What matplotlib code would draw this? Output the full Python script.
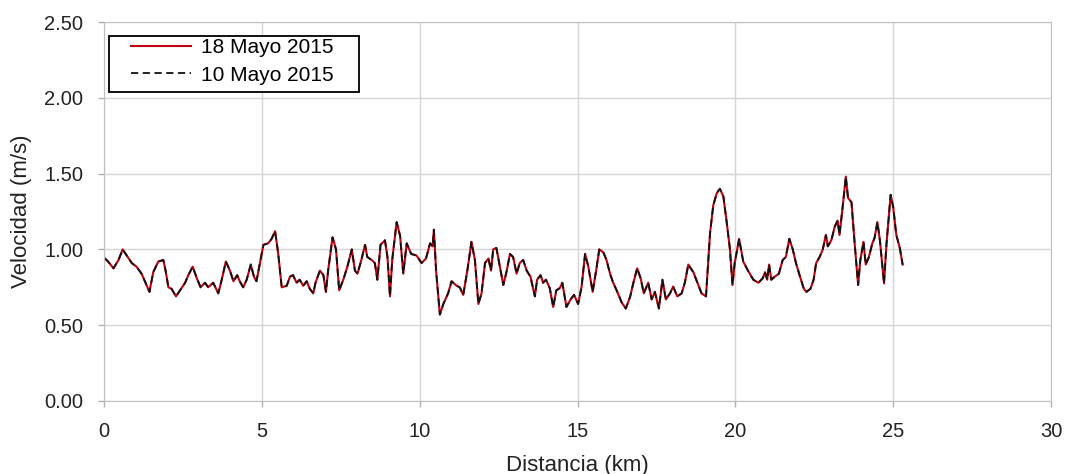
import matplotlib.pyplot as plt
from matplotlib.patches import Rectangle
import numpy as np

plt.rcParams['font.family'] = ['Liberation Sans', 'DejaVu Sans']

distancia = [0.03, 0.13, 0.3, 0.46, 0.59, 0.72, 0.88, 1.03, 1.19, 1.44, 1.56, 1.72, 1.88,
             1.96, 2.04, 2.14, 2.28, 2.41, 2.57, 2.67, 2.81, 2.94, 3.06, 3.2, 3.3, 3.46,
             3.62, 3.73, 3.86, 3.99, 4.1, 4.22, 4.3, 4.41, 4.52, 4.65, 4.75, 4.83, 4.94,
             5.05, 5.2, 5.31, 5.42, 5.52, 5.63, 5.79, 5.89, 5.99, 6.1, 6.2, 6.31, 6.42,
             6.52, 6.63, 6.7, 6.84, 6.95, 7.03, 7.1, 7.24, 7.35, 7.45, 7.58, 7.71, 7.85,
             7.95, 8.03, 8.14, 8.27, 8.34, 8.48, 8.58, 8.66, 8.76, 8.9, 8.98, 9.06, 9.13,
             9.27, 9.38, 9.48, 9.59, 9.73, 9.9, 10.06, 10.2, 10.33, 10.41, 10.45, 10.52,
             10.64, 10.75, 10.9, 11.01, 11.17, 11.27, 11.38, 11.51, 11.64, 11.75, 11.86,
             11.96, 12.07, 12.18, 12.26, 12.33, 12.43, 12.52, 12.65, 12.76, 12.86, 12.96,
             13.07, 13.17, 13.28, 13.39, 13.51, 13.65, 13.72, 13.83, 13.91, 14.0, 14.12,
             14.23, 14.33, 14.44, 14.52, 14.65, 14.78, 14.89, 15.02, 15.13, 15.24, 15.34,
             15.48, 15.59, 15.69, 15.82, 15.92, 16.03, 16.13, 16.24, 16.4, 16.53, 16.67,
             16.77, 16.89, 17.0, 17.1, 17.24, 17.35, 17.45, 17.58, 17.69, 17.8, 17.93,
             18.03, 18.16, 18.3, 18.4, 18.51, 18.67, 18.8, 18.93, 19.07, 19.2, 19.3,
             19.41, 19.51, 19.62, 19.72, 19.83, 19.91, 19.98, 20.12, 20.25, 20.4, 20.57,
             20.73, 20.87, 20.94, 21.01, 21.07, 21.14, 21.25, 21.38, 21.5, 21.6, 21.71,
             21.82, 21.92, 22.05, 22.17, 22.25, 22.38, 22.48, 22.56, 22.67, 22.77, 22.87,
             22.93, 23.04, 23.15, 23.24, 23.3, 23.4, 23.5, 23.57, 23.68, 23.78, 23.89,
             23.96, 24.06, 24.13, 24.23, 24.34, 24.41, 24.5, 24.58, 24.71, 24.79, 24.92,
             25.0, 25.1, 25.21, 25.3]

vel_18_mayo = [0.94, 0.92, 0.875, 0.93, 1.00, 0.96, 0.91, 0.886, 0.84, 0.72, 0.85, 0.92, 0.93,
               0.85, 0.75, 0.74, 0.69, 0.73, 0.78, 0.83, 0.886, 0.81, 0.75, 0.78, 0.75, 0.78,
               0.71, 0.80, 0.92, 0.86, 0.79, 0.83, 0.79, 0.75, 0.80, 0.90, 0.82, 0.79, 0.91,
               1.03, 1.04, 1.07, 1.12, 0.97, 0.75, 0.76, 0.82, 0.83, 0.78, 0.80, 0.76, 0.79,
               0.74, 0.71, 0.78, 0.86, 0.83, 0.72, 0.86, 1.08, 1.00, 0.73, 0.80, 0.886, 1.00,
               0.86, 0.84, 0.92, 1.03, 0.95, 0.93, 0.91, 0.80, 1.03, 1.06, 0.95, 0.69, 0.93,
               1.18, 1.09, 0.84, 1.04, 0.97, 0.96, 0.91, 0.94, 1.04, 1.02, 1.13, 0.86,
               0.57, 0.64, 0.71, 0.79, 0.76, 0.75, 0.70, 0.86, 1.05, 0.93, 0.64,
               0.71, 0.91, 0.94, 0.86, 1.00, 1.01, 0.91, 0.765, 0.86, 0.97, 0.95,
               0.84, 0.91, 0.93, 0.86, 0.82, 0.69, 0.80, 0.83, 0.78, 0.80, 0.745,
               0.62, 0.73, 0.745, 0.78, 0.62, 0.67, 0.70, 0.64, 0.754, 0.97, 0.89,
               0.72, 0.86, 1.00, 0.98, 0.93, 0.84, 0.78, 0.73, 0.65, 0.61, 0.69,
               0.78, 0.875, 0.81, 0.71, 0.78, 0.67, 0.72, 0.61, 0.80, 0.67, 0.71,
               0.755, 0.69, 0.71, 0.78, 0.90, 0.85, 0.78, 0.71, 0.69, 1.11, 1.29,
               1.37, 1.40, 1.35, 1.19, 1.00, 0.765, 0.91, 1.07, 0.92, 0.86, 0.80,
               0.78, 0.81, 0.85, 0.80, 0.90, 0.80, 0.82, 0.84, 0.93, 0.95, 1.07,
               1.00, 0.91, 0.82, 0.74, 0.72, 0.74, 0.80, 0.91, 0.95, 1.00, 1.095,
               1.02, 1.06, 1.15, 1.19, 1.095, 1.28, 1.48, 1.34, 1.31, 1.04, 0.765,
               0.93, 1.05, 0.90, 0.95, 1.04, 1.075, 1.18, 1.06, 0.776, 1.04, 1.36,
               1.28, 1.095, 1.01, 0.90]

# las dos fechas dan practicamente el mismo perfil
vel_10_mayo = list(vel_18_mayo)

xticks = [0, 5, 10, 15, 20, 25, 30]
yticks = [0.0, 0.5, 1.0, 1.5, 2.0, 2.5]

W, H = 1070, 474
fig = plt.figure(figsize=(W / 100, H / 100), dpi=100)
ax = fig.add_axes([104 / W, 1 - 401 / H, 947 / W, 379 / H])

ax.plot(distancia, vel_18_mayo, color='#c00010', lw=1.5, label='18 Mayo 2015')
ax.plot(distancia, vel_10_mayo, color='#111111', lw=1.3, ls=(0, (4, 2.5)), label='10 Mayo 2015')

ax.set_xlim(0, 30)
ax.set_ylim(0, 2.5)
ax.set_xticks(xticks)
ax.set_yticks(yticks)
ax.set_yticklabels(['%.2f' % v for v in yticks])
ax.grid(True, color='#d4d4d4', lw=1.0)
ax.set_axisbelow(True)
for s in ax.spines.values():
    s.set_color('#c0c0c0')
ax.tick_params(colors='#b0b0b0', labelcolor='#222222', labelsize=14.5, length=4, width=1)
ax.tick_params(axis='x', pad=11)
ax.tick_params(axis='y', pad=11)

ax.set_xlabel('Distancia (km)', fontsize=16, color='#222222', labelpad=10)
ax.set_ylabel('Velocidad (m/s)', fontsize=16, color='#222222', labelpad=9)

# leyenda sin marco propio; el recuadro se dibuja aparte
leg = ax.legend(loc='upper left', bbox_to_anchor=(131 / W, 1 - 38 / H),
                bbox_transform=fig.transFigure, fontsize=15, frameon=False,
                handlelength=2.9, handletextpad=0.45, borderpad=0,
                labelspacing=0.42, borderaxespad=0)
leg.set_zorder(6)
caja = Rectangle((109 / W, 1 - 92 / H), 250 / W, 56 / H, transform=fig.transFigure,
                 facecolor='white', edgecolor='#111111', lw=1.4, zorder=5, clip_on=False)
ax.add_artist(caja)

plt.savefig('out.png', dpi=100)
